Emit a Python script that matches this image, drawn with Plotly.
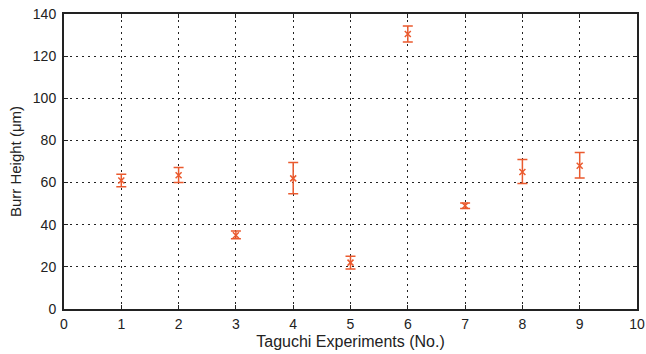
import plotly.graph_objects as go

experiments = [1, 2, 3, 4, 5, 6, 7, 8, 9]
burr_height = [61, 63.5, 35, 62, 22, 130.5, 49, 65, 68]
error_up = [3, 3.7, 2, 7.5, 3, 3.8, 1.3, 6, 6.3]
error_down = [3, 3.5, 1.7, 7.3, 3, 3.8, 1.3, 5.4, 5.8]

color = "#ea5a2e"
tick_font = dict(family="Liberation Sans, Arial", size=14, color="#222")
xtitle_font = dict(family="Liberation Sans, Arial", size=16, color="#222")
ytitle_font = dict(family="Liberation Sans, Arial", size=15, color="#222")

fig = go.Figure()
fig.add_trace(go.Scatter(
    x=experiments, y=burr_height, mode="markers",
    marker=dict(symbol="x-thin", size=6, color=color, line=dict(color=color, width=1.5)),
    error_y=dict(type="data", symmetric=False, array=error_up, arrayminus=error_down,
                 color=color, thickness=1.5, width=5),
    showlegend=False,
))

axis_common = dict(
    showline=True, linecolor="#222", linewidth=2, mirror="ticks",
    ticks="inside", ticklen=4, tickcolor="#222", tickwidth=1,
    showgrid=True, gridcolor="#222", gridwidth=1, griddash="2px,4px",
    zeroline=False, automargin=False, ticklabeloverflow="allow",
    tickfont=tick_font,
)

fig.update_xaxes(range=[0, 10], dtick=1, tick0=0, ticklabelstandoff=1,
                 title=dict(text="Taguchi Experiments (No.)", standoff=5, font=xtitle_font),
                 **axis_common)
fig.update_yaxes(range=[0, 140], dtick=20, tick0=0, ticklabelstandoff=3,
                 title=dict(text="Burr Height (μm)", standoff=8, font=ytitle_font),
                 **axis_common)

fig.update_layout(
    width=646, height=354,
    margin=dict(l=64, r=9, t=14, b=45),
    paper_bgcolor="white", plot_bgcolor="white",
)

fig.write_html("out.html", config={"displayModeBar": False},
               post_script="document.body.style.margin='0';document.body.style.overflow='hidden';")
